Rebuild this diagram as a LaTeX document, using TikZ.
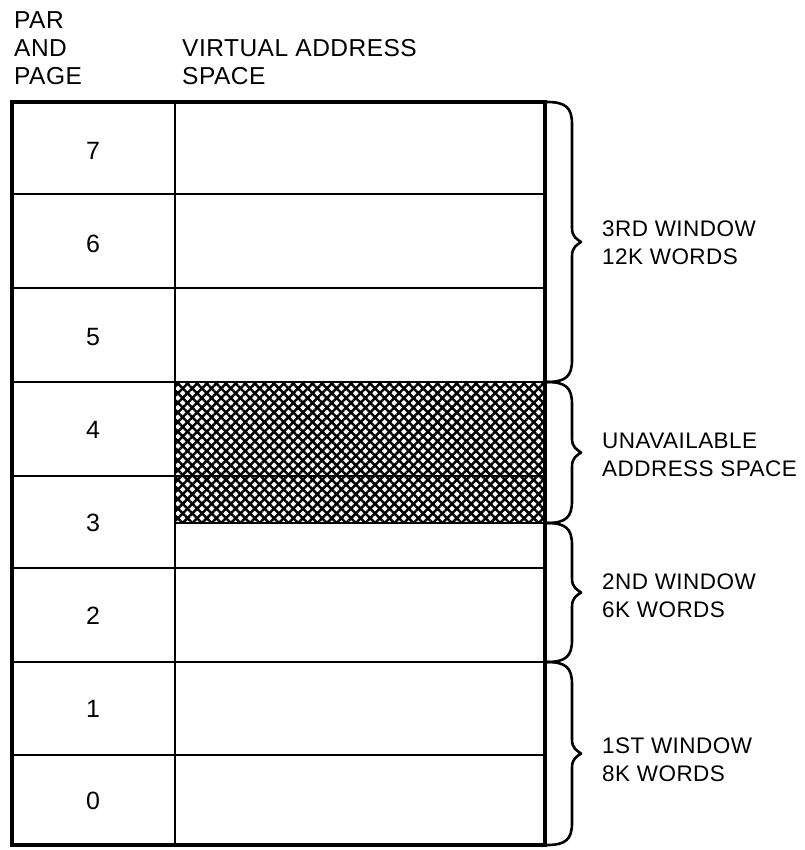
\documentclass[tikz,border=0pt]{standalone}
\usepackage{fontspec}
\setmainfont{Liberation Sans}[LetterSpace=2.0]
\usetikzlibrary{patterns.meta}

\tikzset{
  page/.style={font=\fontsize{25}{28}\selectfont, inner sep=0pt},
  head/.style={font=\fontsize{24.5}{28}\selectfont, align=left, inner sep=0pt, anchor=north west},
  window/.style={font=\fontsize{22.5}{28}\selectfont, align=left, inner sep=0pt, anchor=west},
  grid/.style={line width=2.4pt},
  frame/.style={line width=3.2pt},
  hatch/.style={pattern={Lines[angle=#1,distance=6.8pt,line width=2.5pt]}},
  brace/.style={line width=2.6pt, line cap=round, line join=round}
}

\begin{document}
\begin{tikzpicture}[x=1pt, y=-1pt]
    \useasboundingbox (0,0) rectangle (804,850);

    % Headings
    \node[head] (par) at (14,11) {PAR\\AND\\PAGE};
    \node[head] (vas) at (182,39) {VIRTUAL ADDRESS\\SPACE};

    % Unavailable address space
    \fill[hatch=45] (175,382) rectangle (545,523);
    \fill[hatch=-45] (175,382) rectangle (545,523);

    % Pages
    \foreach \y in {194,288,382,476,568,662,755}
        \draw[grid] (12,\y) -- (545,\y);
    \draw[grid] (175,523) -- (545,523);
    \draw[grid] (175,102) -- (175,845);
    \draw[frame] (12,102) rectangle (545,845);

    % Page numbers
    \foreach \n [evaluate=\n as \yc using {102+92.9*(7-\n)+49}] in {0,...,7}
        \node[page] (p\n) at (93,\yc) {\n};

    % Braces
    \foreach \ya/\yb in {102/382, 382/523, 523/662, 662/845}
        \draw[brace] (547,\ya) .. controls (566,\ya) and (572,\ya+6) .. (572,\ya+22)
            -- (572,{(\ya+\yb)/2-14}) .. controls (572,{(\ya+\yb)/2-5}) and (577,{(\ya+\yb)/2-3}) .. (581,{(\ya+\yb)/2})
            .. controls (577,{(\ya+\yb)/2+3}) and (572,{(\ya+\yb)/2+5}) .. (572,{(\ya+\yb)/2+14})
            -- (572,\yb-22) .. controls (572,\yb-6) and (566,\yb) .. (547,\yb);

    % Window labels
    \node[window] (w3) at (602,243) {3RD WINDOW\\12K WORDS};
    \node[window] (un) at (602,455) {UNAVAILABLE\\ADDRESS SPACE};
    \node[window] (w2) at (602,596) {2ND WINDOW\\6K WORDS};
    \node[window] (w1) at (602,760) {1ST WINDOW\\8K WORDS};
\end{tikzpicture}
\end{document}
